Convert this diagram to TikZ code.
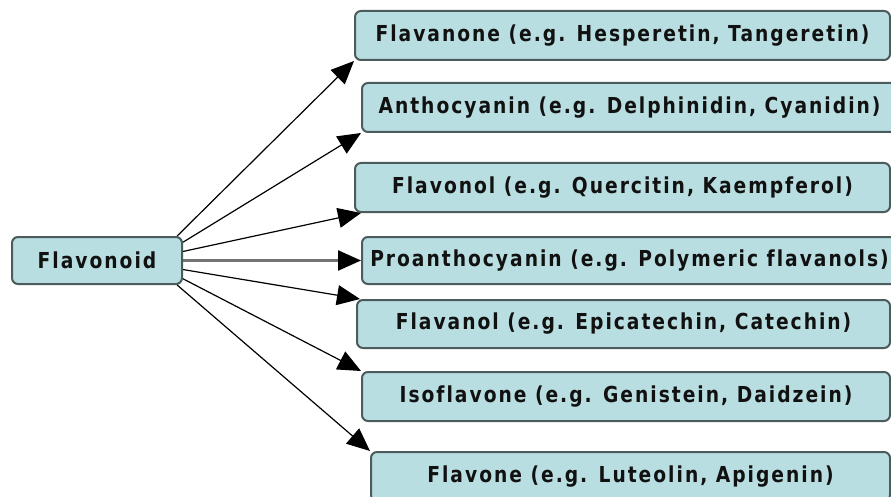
\documentclass[tikz,border=0pt]{standalone}
\usepackage{fontspec}
\newfontfamily\labfont[FakeStretch=0.85,LetterSpace=9,Ligatures={NoCommon}]{DejaVu Sans}
\usetikzlibrary{arrows.meta}
\definecolor{boxfill}{HTML}{B9DEE1}
\definecolor{boxline}{HTML}{4C5C5C}
\definecolor{txt}{HTML}{111111}
\tikzset{
  catbox/.style={draw=boxline, fill=boxfill, line width=2pt, rounded corners=6pt,
    inner sep=0pt, minimum height=48pt, text=txt,
    font={\labfont\bfseries\fontsize{22}{26}\selectfont}},
  conn/.style={line width=1.2pt, -{Triangle[length=23pt,width=20pt]}},
  connmid/.style={conn, draw=black!55, line width=2.4pt,
    -{Triangle[length=23pt,width=20pt,fill=black,color=black]}}
}
\begin{document}
\begin{tikzpicture}[x=1pt,y=-1pt]
\useasboundingbox (0,0) rectangle (891,497);
\fill[white] (0,0) rectangle (891,497);
\node[catbox, minimum width=170pt, minimum height=47pt] (flavonoid) at (97,260.5) {Flavonoid};
\node[catbox, minimum width=535pt, minimum height=49pt] (flavanone) at (622.5,35.5) {Flavanone (e.g. Hesperetin, Tangeretin)};
\node[catbox, minimum width=535pt, minimum height=49pt] (antho) at (629.5,107.5) {Anthocyanin (e.g. Delphinidin, Cyanidin)};
\node[catbox, minimum width=535pt, minimum height=49pt] (flavonol) at (622.5,187.5) {Flavonol (e.g. Quercitin, Kaempferol)};
\node[catbox, minimum width=535pt, minimum height=47pt] (proantho) at (629.5,260.5) {Proanthocyanin (e.g. Polymeric flavanols)};
\node[catbox, minimum width=533pt, minimum height=48pt] (flavanol) at (623.5,324) {Flavanol (e.g. Epicatechin, Catechin)};
\node[catbox, minimum width=528pt, minimum height=49pt] (isoflavone) at (626,396.5) {Isoflavone (e.g. Genistein, Daidzein)};
\node[catbox, minimum width=519pt, minimum height=49pt] (flavone) at (630.5,476.5) {Flavone (e.g. Luteolin, Apigenin)};

\draw[conn] (flavonoid.17) -- (flavanone.south west);
\draw[conn] (flavonoid.12) -- (antho.south west);
\draw[conn] (flavonoid.6) -- ([xshift=7pt]flavonol.south west);
\draw[connmid] (flavonoid.east) -- (proantho.west);
\draw[conn] (flavonoid.-6) -- ([xshift=4pt]flavanol.north west);
\draw[conn] (flavonoid.-12) -- (isoflavone.north west);
\draw[conn] (flavonoid.-17) -- (flavone.north west);
\end{tikzpicture}
\end{document}
